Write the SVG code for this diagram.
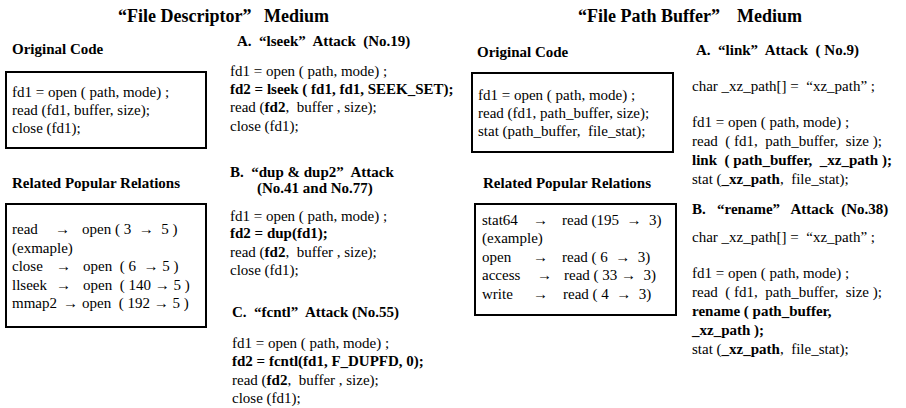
<svg xmlns="http://www.w3.org/2000/svg" width="906" height="408" viewBox="0 0 906 408">
  <style>
    text { font-family: "Liberation Serif", "Times New Roman", "DejaVu Serif", serif; fill: #000; white-space: pre; }
    .title { font-size: 18px; font-weight: bold; }
    .head { font-size: 15px; font-weight: bold; }
    .code { font-size: 15px; }
    .b { font-weight: bold; }
    .box { fill: none; stroke: #000; stroke-width: 2; }
  </style>
  <rect x="0" y="0" width="906" height="408" fill="#fff"/>

  <!-- section titles -->
  <g id="title-descriptor">
    <text class="title" x="118" y="22">“File Descriptor”<tspan x="264">Medium</tspan></text>
  </g>
  <g id="title-path">
    <text class="title" x="578" y="22">“File Path Buffer”<tspan x="737">Medium</tspan></text>
  </g>

  <!-- File Descriptor: original code -->
  <g id="fd-original">
    <text class="head" x="12" y="54">Original Code</text>
    <rect class="box" x="6" y="72" width="200" height="76"/>
    <text class="code" x="12" y="97">fd1 = open ( path, mode) ;</text>
    <text class="code" x="12" y="115">read (fd1, buffer, size);</text>
    <text class="code" x="12" y="133">close (fd1);</text>
  </g>

  <!-- File Descriptor: related relations -->
  <g id="fd-relations">
    <text class="head" x="12" y="188">Related Popular Relations</text>
    <rect class="box" x="6" y="204" width="200" height="123"/>
    <text class="code" y="234"><tspan x="12">read</tspan><tspan x="55">→</tspan><tspan x="82">open ( 3  →  5 )</tspan></text>
    <text class="code" x="12" y="253">(exmaple)</text>
    <text class="code" y="271"><tspan x="12">close</tspan><tspan x="56">→</tspan><tspan x="83">open  ( 6  → 5 )</tspan></text>
    <text class="code" y="290"><tspan x="12">llseek</tspan><tspan x="56">→</tspan><tspan x="83">open  ( 140 → 5 )</tspan></text>
    <text class="code" y="308"><tspan x="12">mmap2</tspan><tspan x="63">→</tspan><tspan x="82">open  ( 192 → 5 )</tspan></text>
  </g>

  <!-- File Descriptor: lseek attack -->
  <g id="fd-attack-lseek">
    <text class="head" x="237" y="46">A.  “lseek”  Attack  (No.19)</text>
    <text class="code" x="230" y="76">fd1 = open ( path, mode) ;</text>
    <text class="code b" x="230" y="94">fd2 = lseek ( fd1, fd1, SEEK_SET);</text>
    <text class="code" x="230" y="112">read (<tspan class="b">fd2</tspan>,  buffer , size);</text>
    <text class="code" x="230" y="131">close (fd1);</text>
  </g>

  <!-- File Descriptor: dup attack -->
  <g id="fd-attack-dup">
    <text class="head" x="230" y="177">B.  “dup &amp; dup2”  Attack</text>
    <text class="head" x="257" y="193">(No.41 and No.77)</text>
    <text class="code" x="230" y="221">fd1 = open ( path, mode) ;</text>
    <text class="code b" x="230" y="238">fd2 = dup(fd1);</text>
    <text class="code" x="230" y="257">read (<tspan class="b">fd2</tspan>,  buffer , size);</text>
    <text class="code" x="230" y="275">close (fd1);</text>
  </g>

  <!-- File Descriptor: fcntl attack -->
  <g id="fd-attack-fcntl">
    <text class="head" x="232" y="317">C.  “fcntl”  Attack (No.55)</text>
    <text class="code" x="232" y="348">fd1 = open ( path, mode) ;</text>
    <text class="code b" x="232" y="366">fd2 = fcntl(fd1, F_DUPFD, 0);</text>
    <text class="code" x="232" y="385">read (<tspan class="b">fd2</tspan>,  buffer , size);</text>
    <text class="code" x="232" y="403">close (fd1);</text>
  </g>

  <!-- File Path Buffer: original code -->
  <g id="fp-original">
    <text class="head" x="477" y="57">Original Code</text>
    <rect class="box" x="472" y="73" width="201" height="79"/>
    <text class="code" x="478" y="100">fd1 = open ( path, mode) ;</text>
    <text class="code" x="478" y="118">read (fd1, path_buffer, size);</text>
    <text class="code" x="478" y="136">stat (path_buffer,  file_stat);</text>
  </g>

  <!-- File Path Buffer: related relations -->
  <g id="fp-relations">
    <text class="head" x="483" y="188">Related Popular Relations</text>
    <rect class="box" x="475" y="204" width="201" height="111"/>
    <text class="code" y="225"><tspan x="482">stat64</tspan><tspan x="533">→</tspan><tspan x="562">read (195  →  3)</tspan></text>
    <text class="code" x="482" y="243">(example)</text>
    <text class="code" y="262"><tspan x="482">open</tspan><tspan x="533">→</tspan><tspan x="562">read ( 6  →  3)</tspan></text>
    <text class="code" y="280"><tspan x="482">access</tspan><tspan x="537">→</tspan><tspan x="564">read ( 33 →  3)</tspan></text>
    <text class="code" y="299"><tspan x="482">write</tspan><tspan x="533">→</tspan><tspan x="563">read ( 4  →  3)</tspan></text>
  </g>

  <!-- File Path Buffer: link attack -->
  <g id="fp-attack-link">
    <text class="head" x="696" y="55">A.  “link”  Attack  ( No.9)</text>
    <text class="code" x="692" y="91">char _xz_path[] =  “xz_path” ;</text>
    <text class="code" x="692" y="127">fd1 = open ( path, mode) ;</text>
    <text class="code" x="692" y="146">read  ( fd1,  path_buffer,  size );</text>
    <text class="code b" x="692" y="165">link  ( path_buffer,  _xz_path );</text>
    <text class="code" x="692" y="184">stat (<tspan class="b">_xz_path</tspan>,  file_stat);</text>
  </g>

  <!-- File Path Buffer: rename attack -->
  <g id="fp-attack-rename">
    <text class="head" x="692" y="214">B.   “rename”   Attack  (No.38)</text>
    <text class="code" x="692" y="242">char _xz_path[] =  “xz_path” ;</text>
    <text class="code" x="692" y="278">fd1 = open ( path, mode) ;</text>
    <text class="code" x="692" y="297">read  ( fd1,  path_buffer,  size );</text>
    <text class="code b" x="692" y="316">rename ( path_buffer,</text>
    <text class="code b" x="692" y="335">_xz_path );</text>
    <text class="code" x="692" y="354">stat (<tspan class="b">_xz_path</tspan>,  file_stat);</text>
  </g>
</svg>
